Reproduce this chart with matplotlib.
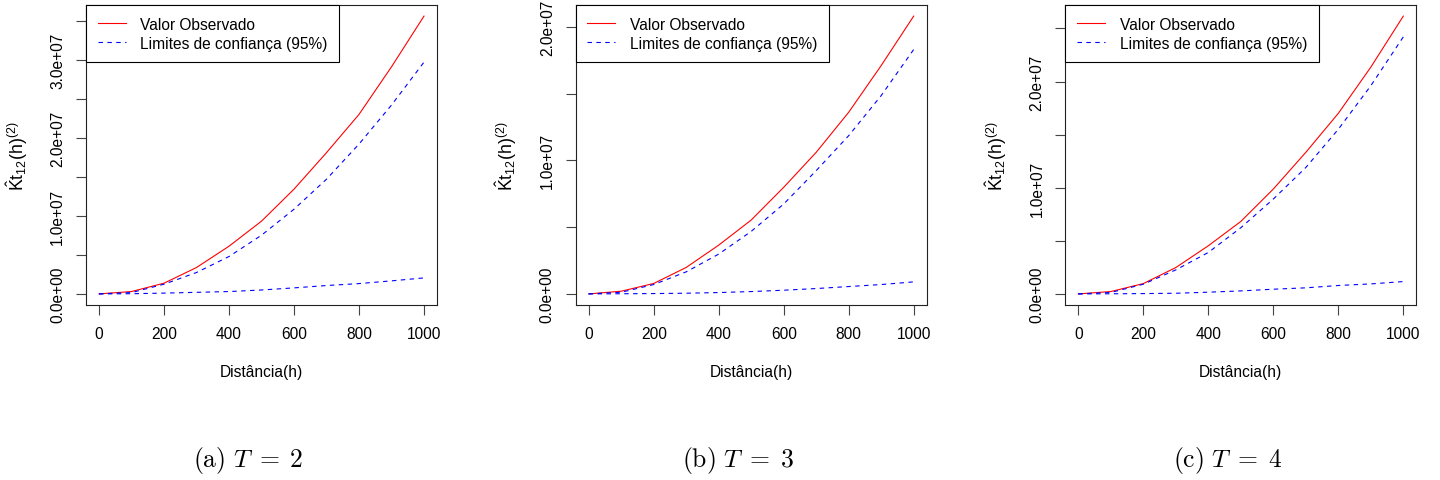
import matplotlib
matplotlib.use("Agg")
import matplotlib.pyplot as plt
from matplotlib.ticker import MultipleLocator, FuncFormatter

plt.rcParams["font.family"] = ["Liberation Sans", "DejaVu Sans"]
plt.rcParams["mathtext.rm"] = "Liberation Sans"
plt.rcParams["mathtext.it"] = "Liberation Sans:italic"
plt.rcParams["mathtext.bf"] = "Liberation Sans:bold"

# Distances (h) where the estimator was evaluated
distancias = [0, 100, 200, 300, 400, 500, 600, 700, 800, 900, 1000]

# T = 2
obs_t2 = [0, 3.0e5, 1.37e6, 3.38e6, 6.11e6, 9.32e6, 1.342e7, 1.81e7, 2.30e7, 2.91e7, 3.56e7]
sup_t2 = [0, 1.7e5, 1.24e6, 2.74e6, 4.79e6, 7.52e6, 1.085e7, 1.47e7, 1.92e7, 2.42e7, 2.97e7]
inf_t2 = [0, 2.0e4, 1.0e5, 2.0e5, 3.0e5, 5.0e5, 7.7e5, 1.07e6, 1.32e6, 1.67e6, 2.05e6]

# T = 3
obs_t3 = [0, 2.0e5, 7.8e5, 1.98e6, 3.65e6, 5.53e6, 7.98e6, 1.06e7, 1.36e7, 1.71e7, 2.08e7]
sup_t3 = [0, 1.2e5, 7.0e5, 1.65e6, 2.98e6, 4.68e6, 6.73e6, 9.23e6, 1.185e7, 1.485e7, 1.83e7]
inf_t3 = [0, 1.0e4, 2.5e4, 5.0e4, 1.0e5, 1.75e5, 2.75e5, 4.0e5, 5.5e5, 7.0e5, 9.0e5]

# T = 4
obs_t4 = [0, 2.2e5, 9.7e5, 2.48e6, 4.53e6, 6.82e6, 9.87e6, 1.333e7, 1.70e7, 2.135e7, 2.616e7]
sup_t4 = [0, 1.3e5, 9.1e5, 2.26e6, 3.90e6, 6.23e6, 8.93e6, 1.19e7, 1.55e7, 1.96e7, 2.42e7]
inf_t4 = [0, 1.0e4, 3.0e4, 6.0e4, 1.6e5, 2.8e5, 4.4e5, 5.7e5, 7.9e5, 9.4e5, 1.16e6]

legendas = ["Valor Observado", "Limites de confiança (95%)"]
rotulo_x = "Distância(h)"
rotulo_y = r"$\hat{\mathrm{K}}\mathrm{t}_{12}\mathrm{(h)}^{(2)}$"
legendas_painel = [r"$\mathrm{(a)}\ T\;=\;2$", r"$\mathrm{(b)}\ T\;=\;3$", r"$\mathrm{(c)}\ T\;=\;4$"]

paineis = [
    (obs_t2, sup_t2, inf_t2),
    (obs_t3, sup_t3, inf_t3),
    (obs_t4, sup_t4, inf_t4),
]

W, H = 1440, 481
fig = plt.figure(figsize=(W / 100, H / 100), dpi=100)

lefts = [86, 575.7, 1065.3]
caption_x = [248, 738, 1228]
ax_w, ax_top, ax_bottom = 351, 6, 306
fs = 11.2


def fmt(v, pos):
    k = round(v / 5e6)
    if k % 2:
        return ""
    return "%.1e" % v


for i, (obs, sup, inf) in enumerate(paineis):
    ax = fig.add_axes([lefts[i] / W, 1 - ax_bottom / H, ax_w / W, (ax_bottom - ax_top) / H])
    l1, = ax.plot(distancias, obs, color="#FF0000", lw=0.8)
    l2, = ax.plot(distancias, sup, color="#0000FF", lw=0.8, ls=(0, (4, 4)))
    ax.plot(distancias, inf, color="#0000FF", lw=0.8, ls=(0, (4, 4)))
    ax.margins(x=0.04, y=0.04)

    ax.xaxis.set_major_locator(MultipleLocator(200))
    ax.yaxis.set_major_locator(MultipleLocator(5e6))
    ax.yaxis.set_major_formatter(FuncFormatter(fmt))
    ax.tick_params(axis="both", labelsize=fs, length=7, width=0.8, color="#444444",
                   direction="out", pad=8)
    ax.tick_params(axis="y", labelrotation=90)
    for lab in ax.get_yticklabels():
        lab.set_va("center")
    for sp in ax.spines.values():
        sp.set_linewidth(0.8)
        sp.set_color("#222222")

    ax.set_xlabel(rotulo_x, fontsize=fs)
    ax.xaxis.label.set_va("center")
    ax.xaxis.set_label_coords(0.5, -0.223)
    ax.set_ylabel(rotulo_y, fontsize=12.8, math_fontfamily="custom")
    ax.yaxis.label.set_va("center")
    ax.yaxis.set_label_coords(-0.197, 0.5)

    leg = ax.legend([l1, l2], legendas, loc="upper left", bbox_to_anchor=(0, 1),
                    borderaxespad=0, fancybox=False, framealpha=1, edgecolor="black",
                    fontsize=fs, handlelength=1.8, handletextpad=0.95,
                    borderpad=0.75, labelspacing=0.25)
    leg.get_frame().set_linewidth(0.8)

    fig.text(caption_x[i] / W, 1 - 461 / H, legendas_painel[i], fontsize=18.5,
             ha="center", va="center", math_fontfamily="cm")

fig.savefig("out.png", dpi=100)
